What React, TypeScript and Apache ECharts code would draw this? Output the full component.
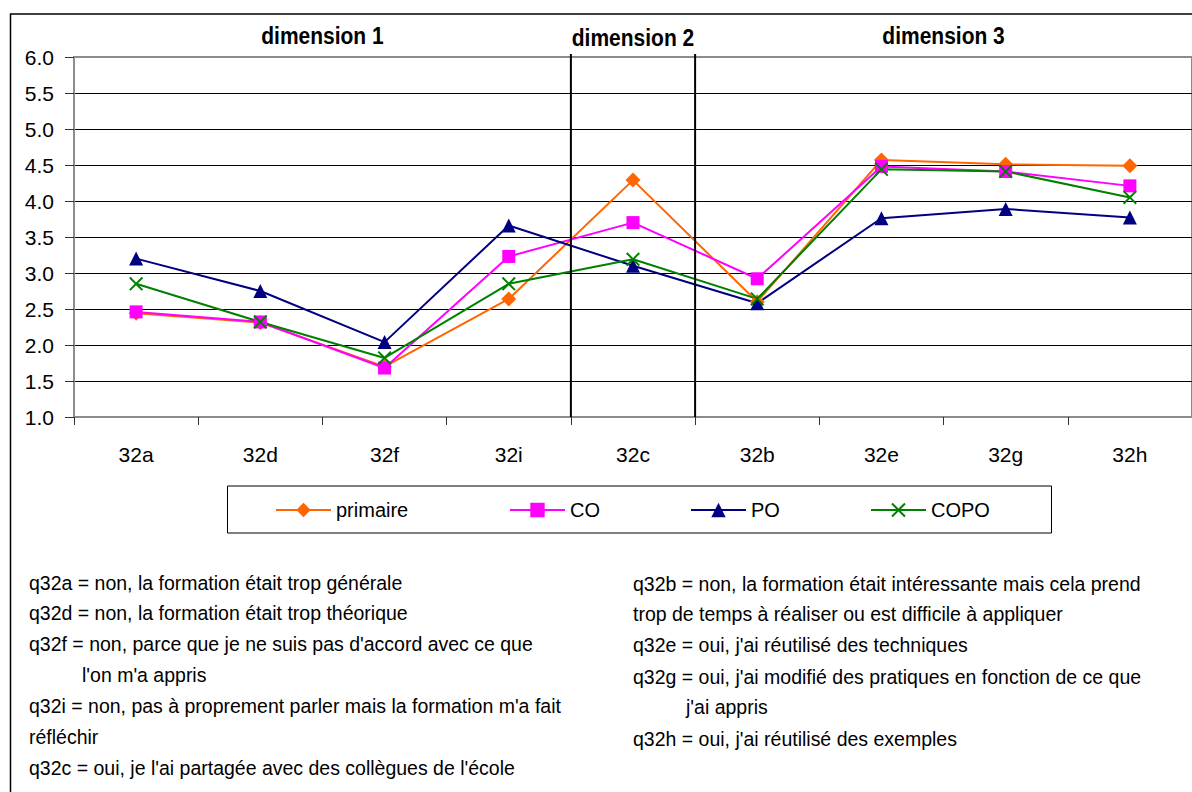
import { useEffect, useRef } from "react";
import * as echarts from "echarts";

const categories = ["32a", "32d", "32f", "32i", "32c", "32b", "32e", "32g", "32h"];
const seriesNames = ["primaire", "CO", "PO", "COPO"];
const primaire = [2.44, 2.31, 1.7, 2.64, 4.29, 2.6, 4.57, 4.51, 4.49];
const co = [2.46, 2.32, 1.68, 3.23, 3.7, 2.92, 4.48, 4.41, 4.21];
const po = [3.2, 2.75, 2.04, 3.66, 3.1, 2.58, 3.76, 3.89, 3.77];
const copo = [2.85, 2.32, 1.82, 2.85, 3.19, 2.64, 4.44, 4.41, 4.05];
const yMin = 1;
const yMax = 6;
const yStep = 0.5;

const dimensionLabels = ["dimension 1", "dimension 2", "dimension 3"];
const dimensionRanges = [
  [0, 3],
  [4, 4],
  [5, 8],
];

const notesLeft = [
  "q32a = non, la formation était trop générale",
  "q32d = non, la formation était trop théorique",
  "q32f = non, parce que je ne suis pas d'accord avec ce que",
  "l'on m'a appris",
  "q32i = non, pas à proprement parler mais la formation m'a fait",
  "réfléchir",
  "q32c = oui, je l'ai partagée avec des collègues de l'école",
];
const notesRight = [
  "q32b = non, la formation était intéressante mais cela prend",
  "trop de temps à réaliser ou est difficile à appliquer",
  "q32e = oui, j'ai réutilisé des techniques",
  "q32g = oui, j'ai modifié des pratiques en fonction de ce que",
  "j'ai appris",
  "q32h = oui, j'ai réutilisé des exemples",
];

// layout (positions only)
const leftX = [29, 29, 29, 82, 29, 29, 29];
const leftY = [583, 613, 644, 675, 706, 737, 768];
const rightX = [633, 633, 633, 633, 686, 633];
const rightY = [584, 614, 645, 677, 707, 739];
const legendLefts = [275, 509, 690, 870];

const FONT = "'Liberation Sans', Arial, sans-serif";
const X_SYMBOL = "path://M0,1L1,0L5,4L9,0L10,1L6,5L10,9L9,10L5,6L1,10L0,9L4,5Z";

export default function App() {
  const ref = useRef<HTMLDivElement>(null);

  useEffect(() => {
    if (!ref.current) return;
    const chart = echarts.init(ref.current, undefined, { renderer: "svg" });
    const colors = ["#FF6600", "#FF00FF", "#000080", "#008000"];
    const symbols = ["diamond", "rect", "triangle", X_SYMBOL];
    const sizes = [15, 13, 14, 14];
    const dataSets = [primaire, co, po, copo];
    const nSplit = Math.round((yMax - yMin) / yStep) + 1;
    const splitColors = Array.from({ length: nSplit }, (_, i) => (i === nSplit - 1 ? "#8c8c8c" : "#000000"));

    chart.setOption({
      animation: false,
      backgroundColor: "#ffffff",
      textStyle: { fontFamily: FONT },
      grid: {
        left: 74,
        top: 57,
        width: 1122,
        height: 360,
        show: true,
        borderColor: "#8c8c8c",
        borderWidth: 2,
        backgroundColor: "transparent",
      },
      xAxis: {
        type: "category",
        data: categories,
        boundaryGap: true,
        axisLine: { lineStyle: { color: "#8c8c8c", width: 2 } },
        axisTick: { show: true, length: 8, lineStyle: { color: "#333" }, alignWithLabel: false },
        axisLabel: { fontSize: 21, color: "#000", margin: 27, fontFamily: FONT },
        splitLine: { show: false },
      },
      yAxis: {
        type: "value",
        min: yMin,
        max: yMax,
        interval: yStep,
        axisLine: { show: true, lineStyle: { color: "#8c8c8c", width: 2 } },
        axisTick: { show: true, length: 9, lineStyle: { color: "#333" } },
        axisLabel: {
          fontSize: 21,
          color: "#000",
          margin: 20,
          fontFamily: FONT,
          formatter: (v: number) => v.toFixed(1),
        },
        splitLine: { show: true, lineStyle: { color: splitColors, width: 1 } },
      },
      legend: seriesNames.map((n, i) => ({
        data: [n],
        left: legendLefts[i],
        top: 500,
        itemWidth: 55,
        itemHeight: 18,
        itemGap: 0,
        padding: 0,
        textStyle: { fontSize: 20, color: "#000", fontFamily: FONT },
      })),
      series: seriesNames.map((n, i) => ({
        name: n,
        type: "line",
        data: dataSets[i],
        symbol: symbols[i],
        symbolSize: sizes[i],
        showAllSymbol: true,
        lineStyle: { color: colors[i], width: 2 },
        itemStyle: { color: colors[i], borderColor: colors[i], borderWidth: 0 },
        emphasis: { disabled: true },
      })),
    });

    const catX = (i: number) => chart.convertToPixel({ xAxisIndex: 0 }, i) as number;
    const half = (catX(1) - catX(0)) / 2;
    const topY = chart.convertToPixel({ yAxisIndex: 0 }, yMax) as number;
    const botY = chart.convertToPixel({ yAxisIndex: 0 }, yMin) as number;

    const graphics: any[] = [];
    graphics.push({
      type: "rect",
      shape: { x: 10.5, y: 14, width: 1200, height: 800 },
      style: { fill: "none", stroke: "#000", lineWidth: 1.5 },
      z: -10,
      silent: true,
    });
    dimensionRanges.slice(0, -1).forEach((r) => {
      const x = catX(r[1]) + half;
      graphics.push({
        type: "line",
        shape: { x1: x, y1: topY - 3, x2: x, y2: botY },
        style: { stroke: "#000", lineWidth: 2 },
        z: 5,
        silent: true,
      });
    });
    dimensionLabels.forEach((lab, i) => {
      const r = dimensionRanges[i];
      const cx = (catX(r[0]) + catX(r[1])) / 2;
      graphics.push({
        type: "text",
        x: cx,
        y: i === 1 ? 38 : 36,
        scaleY: 1.15,
        style: {
          text: lab,
          font: `bold 21px ${FONT}`,
          fill: "#000",
          textAlign: "center",
          textVerticalAlign: "middle",
        },
        silent: true,
      });
    });
    graphics.push({
      type: "rect",
      shape: { x: 227.5, y: 486, width: 824, height: 47 },
      style: { fill: "none", stroke: "#000", lineWidth: 1 },
      silent: true,
    });
    const addNotes = (texts: string[], xs: number[], ys: number[]) => {
      texts.forEach((t, i) => {
        graphics.push({
          type: "text",
          x: xs[i],
          y: ys[i],
          scaleY: 1.05,
          style: {
            text: t,
            font: `19.5px ${FONT}`,
            fill: "#000",
            textAlign: "left",
            textVerticalAlign: "middle",
          },
          silent: true,
        });
      });
    };
    addNotes(notesLeft, leftX, leftY);
    addNotes(notesRight, rightX, rightY);

    chart.setOption({ graphic: graphics });

    return () => chart.dispose();
  }, []);

  return (
    <div
      ref={ref}
      style={{ position: "fixed", left: 0, top: 0, width: 1192, height: 792, background: "#fff" }}
    />
  );
}
